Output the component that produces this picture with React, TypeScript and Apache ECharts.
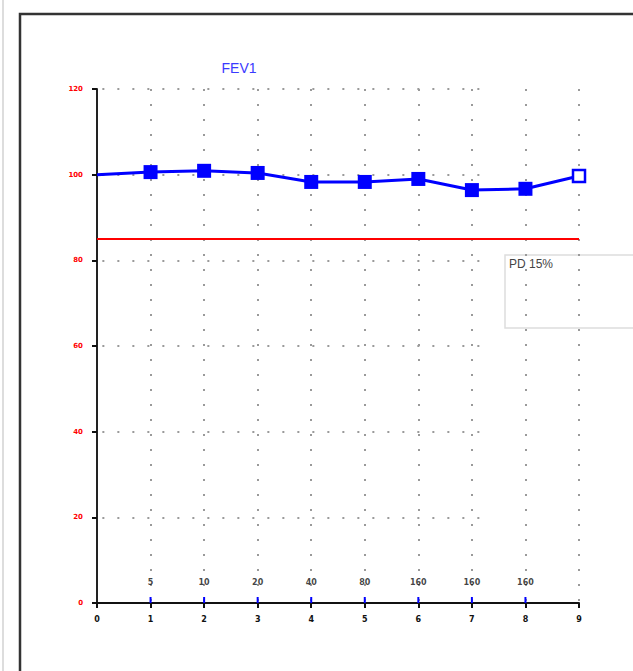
import React, { useEffect, useRef } from "react";
import * as echarts from "echarts";

const steps = [0, 1, 2, 3, 4, 5, 6, 7, 8, 9];
const fev1 = [100, 100.6, 100.9, 100.4, 98.3, 98.3, 99.0, 96.4, 96.7, 99.7];
const doseSteps = [1, 2, 3, 4, 5, 6, 7, 8];
const doseLabels = ["5", "10", "20", "40", "80", "160", "160", "160"];
const pdThreshold = 85;
const yTicks = [20, 40, 60, 80, 100, 120];
const doseLabelY = 4.9;
const doseTickHeight = 1.4;
const hGridEnd = 7.35;

export default function App() {
  const ref = useRef<HTMLDivElement>(null);
  useEffect(() => {
    if (!ref.current) return;
    const chart = echarts.init(ref.current, null, { renderer: "svg" });
    const blue = "#0000ff";
    const dotted = { color: "#9a9a9a", width: 2, type: [2, 13] as any };
    const lineData = steps.map((s, i) => {
      const d: any = { value: [s, fev1[i]] };
      if (i === 0) d.symbol = "none";
      else if (i === steps.length - 1) {
        d.symbol = "rect";
        d.symbolSize = 12;
        d.itemStyle = { color: "#ffffff", borderColor: blue, borderWidth: 2.5 };
      }
      return d;
    });
    chart.setOption({
      animation: false,
      backgroundColor: "#ffffff",
      grid: { left: 97, right: 54, top: 89, bottom: 68 },
      xAxis: {
        type: "value",
        min: 0,
        max: 9,
        interval: 1,
        axisLine: { lineStyle: { color: "#111", width: 2 } },
        axisTick: { show: true, length: 5, lineStyle: { color: "#111", width: 2 } },
        axisLabel: {
          color: "#111",
          fontSize: 8,
          fontWeight: "bold",
          fontFamily: "DejaVu Sans",
          margin: 12,
        },
        splitLine: { show: true, lineStyle: dotted },
      },
      yAxis: {
        type: "value",
        min: 0,
        max: 120,
        interval: 20,
        axisLine: { show: true, lineStyle: { color: "#222", width: 2 } },
        axisTick: { show: true, length: 5, lineStyle: { color: "#111", width: 2 } },
        axisLabel: {
          color: "#ff0000",
          fontSize: 7,
          fontWeight: "bold",
          fontFamily: "DejaVu Sans",
          margin: 14,
        },
        splitLine: { show: false },
      },
      graphic: [
        {
          type: "rect",
          shape: { x: 2, y: 0, width: 2, height: 671 },
          style: { fill: "#dddddd" },
          silent: true,
        },
        {
          type: "rect",
          shape: { x: 20, y: 14, width: 700, height: 700 },
          style: { fill: "none", stroke: "#333333", lineWidth: 2.5 },
          silent: true,
        },
        {
          type: "text",
          x: 239,
          y: 68,
          style: {
            text: "FEV1",
            fill: "#3a3aff",
            font: "14px 'Liberation Sans', Arial, sans-serif",
            textAlign: "center",
            textVerticalAlign: "middle",
          },
        },
        {
          type: "rect",
          shape: { x: 505, y: 255, width: 140, height: 73 },
          style: { fill: "none", stroke: "#dddddd", lineWidth: 1.5 },
          silent: true,
        },
        {
          type: "text",
          x: 509,
          y: 258,
          style: {
            text: "PD 15%",
            fill: "#444444",
            font: "12px 'Liberation Sans', Arial, sans-serif",
            textAlign: "left",
            textVerticalAlign: "top",
          },
        },
      ],
      series: [
        {
          type: "line",
          data: [],
          silent: true,
          markLine: {
            symbol: "none",
            silent: true,
            label: { show: false },
            lineStyle: dotted,
            data: yTicks.map((v) => [
              { coord: [0.1, v] },
              { coord: [hGridEnd, v] },
            ]),
          },
        },
        {
          type: "line",
          data: [
            [steps[0], pdThreshold],
            [steps[steps.length - 1], pdThreshold],
          ],
          symbol: "none",
          lineStyle: { color: "#ff0000", width: 2 },
          silent: true,
        },
        {
          type: "bar",
          data: doseSteps.map((s) => [s, doseTickHeight]),
          barWidth: 2,
          itemStyle: { color: blue },
          silent: true,
        },
        {
          type: "scatter",
          data: doseSteps.map((s, i) => ({ value: [s, doseLabelY], name: doseLabels[i] })),
          symbolSize: 0,
          label: {
            show: true,
            position: "inside",
            formatter: (p: any) => p.name,
            color: "#111",
            fontSize: 8,
            fontWeight: "bold",
            fontFamily: "DejaVu Sans",
          },
          silent: true,
        },
        {
          type: "line",
          data: lineData,
          symbol: "rect",
          symbolSize: 14,
          showAllSymbol: true,
          lineStyle: { color: blue, width: 3 },
          itemStyle: { color: blue },
          z: 5,
        },
      ],
    });
    return () => chart.dispose();
  }, []);
  return (
    <div
      ref={ref}
      style={{ position: "fixed", left: 0, top: 0, width: 633, height: 671, background: "#fff" }}
    />
  );
}
